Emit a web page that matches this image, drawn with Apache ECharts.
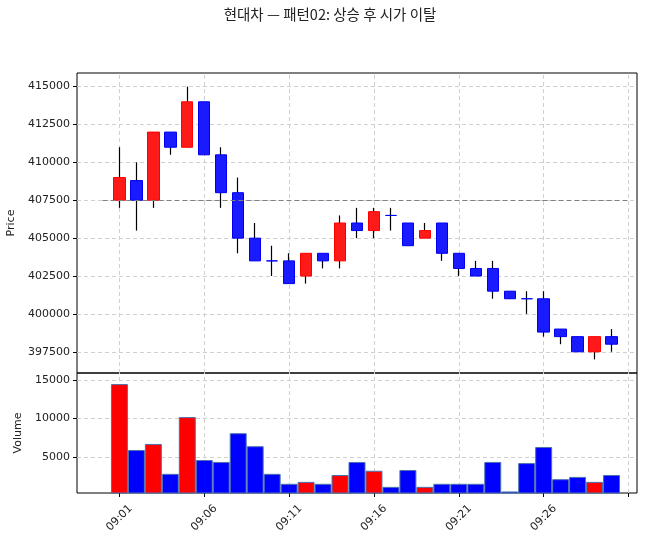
<!DOCTYPE html>
<html><head><meta charset="utf-8">
<script src="https://cdn.jsdelivr.net/npm/echarts@6/dist/echarts.min.js"></script>
<style>html,body{margin:0;padding:0;background:#fff}#c{width:660px;height:542px}</style>
</head><body><div id="c"></div>
<script>
// ---- data ----
const times = ['09:01','09:02','09:03','09:04','09:05','09:06','09:07','09:08','09:09','09:10',
               '09:11','09:12','09:13','09:14','09:15','09:16','09:17','09:18','09:19','09:20',
               '09:21','09:22','09:23','09:24','09:25','09:26','09:27','09:28','09:29','09:30'];
const opens  = [407500,408800,407500,412000,411000,414000,410500,408000,405000,403500,
                403500,402500,404000,403500,406000,405500,406500,406000,405000,406000,
                404000,403000,403000,401500,401000,401000,399000,398500,397500,398500];
const closes = [409000,407500,412000,411000,414000,410500,408000,405000,403500,403500,
                402000,404000,403500,406000,405500,406750,406500,404500,405500,404000,
                403000,402500,401500,401000,401000,398800,398500,397500,398500,398000];
const lows   = [407000,405500,407000,410500,411000,410500,407000,404000,403500,402500,
                402000,402000,403000,403000,405000,405000,405500,404500,405000,403500,
                402500,402500,401000,401000,400000,398500,398000,397500,397000,397500];
const highs  = [411000,410000,412000,412000,415000,414000,411000,409000,406000,404500,
                404000,404000,404000,406500,407000,407000,407000,406000,406000,406000,
                404000,403500,403500,401500,401500,401500,399000,398500,398500,399000];
const volumes = [14500,5900,6700,2800,10200,4600,4350,8100,6400,2800,
                 1500,1750,1500,2650,4350,3200,1100,3300,1100,1500,
                 1500,1500,4350,500,4200,6300,2100,2400,1750,2650];
const priceTicks = [397500,400000,402500,405000,407500,410000,412500,415000];
const volumeTicks = [5000,10000,15000];
const openLevel = 407500;
const titleText = '현대차 — 패턴02: 상승 후 시가 이탈';

// ---- build ----
const PAD = 2;
const cats = ['08:59','09:00'].concat(times).concat(['09:31']);
const tickIdx = [];
for (let i = 0; i <= times.length; i += 5) tickIdx.push(i + PAD);
const isTick = (idx) => idx >= PAD && (idx - PAD) % 5 === 0;
const isLabel = (idx) => isTick(idx) && (idx - PAD) < times.length;

const UP = '#ff1a1a', DOWN = '#1a1aff';
const wickData = times.map((t, i) => [i + PAD, opens[i], closes[i], lows[i], highs[i]]);
const bodyData = times.map((t, i) => [i + PAD, opens[i], closes[i],
  Math.min(opens[i], closes[i]), Math.max(opens[i], closes[i])]);
const volData = times.map((t, i) => ({
  value: [i + PAD, volumes[i]],
  itemStyle: { color: closes[i] > opens[i] ? '#ff0000' : '#0000ff' }
}));

const gridStyle = { color: '#d0d0d0', width: 1, type: [4, 3] };
function gridLines(yVals) {
  const d = tickIdx.map(x => ({ xAxis: x }));
  yVals.forEach(y => d.push({ yAxis: y }));
  return { silent: true, symbol: ['none', 'none'], label: { show: false }, z: 1,
           lineStyle: gridStyle, emphasis: { disabled: true }, animation: false, data: d };
}
const FONT = 'DejaVu Sans, Noto Sans CJK KR';
const labelStyle = { color: '#222', fontSize: 11, fontFamily: FONT };
const plain = (v) => String(Math.round(v));

const chart = echarts.init(document.getElementById('c'));
chart.setOption({
  animation: false,
  backgroundColor: '#fff',
  title: { text: titleText, left: 'center', top: 2,
    textStyle: { fontSize: 14.5, fontWeight: 'normal', color: '#222', fontFamily: 'Noto Sans CJK KR' } },
  grid: [
    { left: 77, right: 23, top: 73, height: 300, show: true, borderColor: '#000', borderWidth: 1,
      containLabel: false, outerBoundsMode: 'none' },
    { left: 77, right: 23, top: 373, height: 120, show: true, borderColor: '#000', borderWidth: 1,
      containLabel: false, outerBoundsMode: 'none' }
  ],
  xAxis: [
    { type: 'category', gridIndex: 0, data: cats, boundaryGap: true,
      axisLine: { show: false }, axisTick: { show: false }, axisLabel: { show: false }, splitLine: { show: false } },
    { type: 'category', gridIndex: 1, data: cats, boundaryGap: true,
      axisLine: { show: false },
      axisTick: { show: true, alignWithLabel: true, length: 4, interval: (i) => isTick(i), lineStyle: { color: '#000' } },
      axisLabel: Object.assign({ interval: (i) => isLabel(i), rotate: 45, align: 'center', verticalAlign: 'middle', margin: 25 }, labelStyle),
      splitLine: { show: false } }
  ],
  yAxis: [
    { type: 'value', gridIndex: 0, min: 396100, max: 415900, scale: true,
      name: 'Price', nameLocation: 'middle', nameGap: 56, nameRotate: 90,
      nameTextStyle: { color: '#222', fontSize: 11, fontFamily: FONT },
      axisLine: { show: false },
      axisTick: { show: true, length: 4, customValues: priceTicks, lineStyle: { color: '#000' } },
      axisLabel: Object.assign({ customValues: priceTicks, margin: 7, formatter: plain }, labelStyle),
      splitLine: { show: false } },
    { type: 'value', gridIndex: 1, min: 300, max: 15950,
      name: 'Volume', nameLocation: 'middle', nameGap: 48, nameRotate: 90,
      nameTextStyle: { color: '#222', fontSize: 11, fontFamily: FONT },
      axisLine: { show: false },
      axisTick: { show: true, length: 4, customValues: volumeTicks, lineStyle: { color: '#000' } },
      axisLabel: Object.assign({ customValues: volumeTicks, margin: 7, formatter: plain }, labelStyle),
      splitLine: { show: false } }
  ],
  series: [
    { type: 'candlestick', name: 'wick', xAxisIndex: 0, yAxisIndex: 0, data: wickData,
      encode: { x: 0, y: [1, 2, 3, 4] }, barWidth: 1, z: 2,
      itemStyle: { color: '#000', color0: '#000', borderColor: '#000', borderColor0: '#000', borderColorDoji: '#000', borderWidth: 1.2 },
      markLine: gridLines(priceTicks) },
    { type: 'candlestick', name: 'body', xAxisIndex: 0, yAxisIndex: 0, data: bodyData,
      encode: { x: 0, y: [1, 2, 3, 4] }, barWidth: '70%', z: 3,
      itemStyle: { color: UP, color0: DOWN, borderColor: '#ff0000', borderColor0: '#0000ee', borderColorDoji: '#0000ff', borderWidth: 1 },
      markLine: { silent: true, symbol: ['none', 'none'], label: { show: false }, z: 6,
        lineStyle: { color: '#808080', width: 1.2, type: [5, 3] }, emphasis: { disabled: true },
        data: [[{ coord: [PAD - 1, openLevel] }, { coord: [PAD + times.length, openLevel] }]] } },
    { type: 'bar', name: 'volume', xAxisIndex: 1, yAxisIndex: 1, data: volData,
      encode: { x: 0, y: 1 }, barWidth: '100%', barGap: '-100%', z: 2,
      itemStyle: { borderColor: '#4a72b0', borderWidth: 1 },
      markLine: gridLines(volumeTicks) }
  ]
});
</script>
</body></html>
